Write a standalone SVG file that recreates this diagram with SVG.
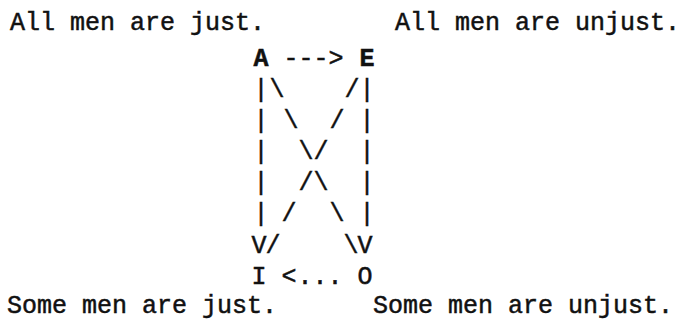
<svg xmlns="http://www.w3.org/2000/svg" width="679" height="322" viewBox="0 0 679 322">
  <style>
    text { font-family: "Liberation Mono", "Courier New", monospace; font-size: 25px; fill: #111; stroke: #111; stroke-width: 0.5px; }
    .c { text-anchor: middle; }
    .cap { text-anchor: start; }
  </style>
  <rect width="679" height="322" fill="#fff"/>

  <!-- Captions of the four corner propositions -->
  <g id="caption-A"><text class="cap" x="10" y="30">All men are just.</text></g>
  <g id="caption-E"><text class="cap" x="395" y="30">All men are unjust.</text></g>
  <g id="caption-I"><text class="cap" x="7" y="313">Some men are just.</text></g>
  <g id="caption-O"><text class="cap" x="373" y="313">Some men are unjust.</text></g>

  <!-- Corner letters (character cell width 15, column 0 centred at x=261) -->
  <g id="node-A"><text class="c" x="261" y="66" font-weight="bold">A</text></g>
  <g id="node-E"><text class="c" x="367" y="66" font-weight="bold">E</text></g>
  <g id="node-I"><text class="c" x="259" y="284">I</text></g>
  <g id="node-O"><text class="c" x="365" y="284">O</text></g>

  <!-- Character-drawn connectors -->
  <g id="connectors">
    <!-- dashed arrow from A to E -->
    <text class="c" x="291" y="66">-</text>
    <text class="c" x="306" y="66">-</text>
    <text class="c" x="321" y="66">-</text>
    <text class="c" x="336" y="66">&gt;</text>
    <!-- dotted arrow from O to I -->
    <text class="c" x="289" y="284">&lt;</text>
    <text class="c" x="305" y="284">.</text>
    <text class="c" x="320" y="284">.</text>
    <text class="c" x="335" y="284">.</text>

    <!-- left vertical A to I -->
    <text class="c" x="261" y="97">|</text>
    <text class="c" x="261" y="128">|</text>
    <text class="c" x="261" y="159">|</text>
    <text class="c" x="261" y="190">|</text>
    <text class="c" x="261" y="221">|</text>
    <text class="c" x="259" y="253">V</text>

    <!-- right vertical E to O -->
    <text class="c" x="367" y="97">|</text>
    <text class="c" x="367" y="128">|</text>
    <text class="c" x="367" y="159">|</text>
    <text class="c" x="367" y="190">|</text>
    <text class="c" x="367" y="221">|</text>
    <text class="c" x="365" y="253">V</text>

    <!-- diagonal A to O -->
    <text class="c" x="277" y="97">\</text>
    <text class="c" x="291" y="128">\</text>
    <text class="c" x="306" y="159">\</text>
    <text class="c" x="321" y="190">\</text>
    <text class="c" x="337" y="221">\</text>
    <text class="c" x="351" y="253">\</text>

    <!-- diagonal E to I -->
    <text class="c" x="352" y="97">/</text>
    <text class="c" x="337" y="128">/</text>
    <text class="c" x="321" y="159">/</text>
    <text class="c" x="306" y="190">/</text>
    <text class="c" x="289" y="221">/</text>
    <text class="c" x="273" y="253">/</text>
  </g>
</svg>
